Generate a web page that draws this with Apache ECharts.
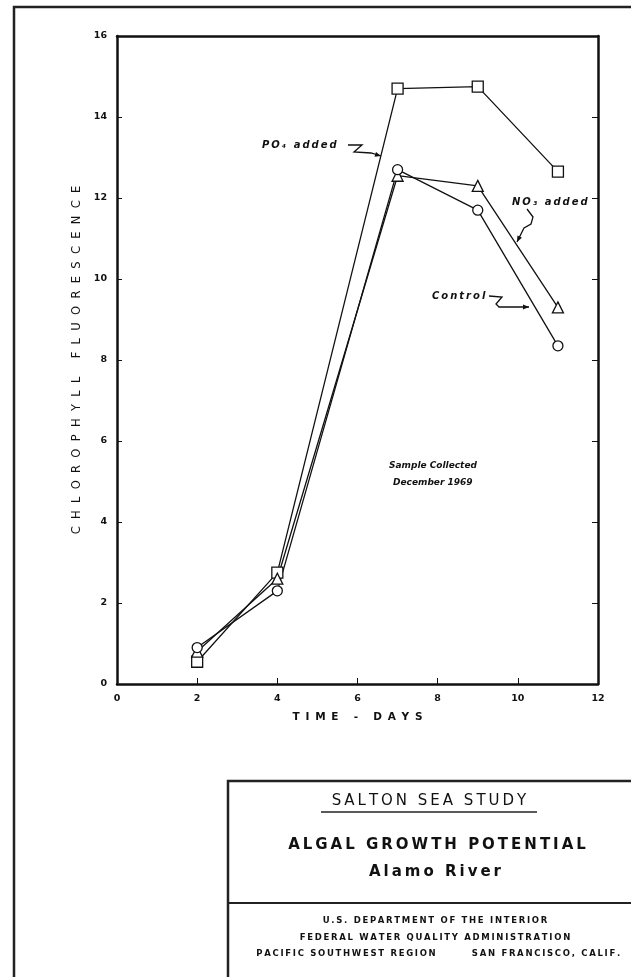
<!DOCTYPE html>
<html>
<head>
<meta charset="utf-8">
<script src="https://cdn.jsdelivr.net/npm/echarts@6/dist/echarts.min.js"></script>
<style>
html,body{margin:0;padding:0;background:#fff;}
#c{width:631px;height:977px;}
</style>
</head>
<body>
<div id="c"></div>
<script>
// ---- data ----
const days = [2, 4, 7, 9, 11];
const po4Added = [0.55, 2.75, 14.7, 14.75, 12.65];
const no3Added = [0.8, 2.6, 12.55, 12.3, 9.3];
const control = [0.9, 2.3, 12.7, 11.7, 8.35];
const xTicks = [0, 2, 4, 6, 8, 10, 12];
const yTicks = [0, 2, 4, 6, 8, 10, 12, 14, 16];
const seriesNames = ['PO₄ added', 'NO₃ added', 'Control'];
const yAxisTitle = 'CHLOROPHYLL FLUORESCENCE';
const xAxisTitle = 'TIME - DAYS';
const titleLines = ['SALTON SEA STUDY', 'ALGAL GROWTH POTENTIAL', 'Alamo River'];
const agencyLines = ['U.S. DEPARTMENT OF THE INTERIOR', 'FEDERAL WATER QUALITY ADMINISTRATION', 'PACIFIC SOUTHWEST REGION', 'SAN FRANCISCO, CALIF.'];
const noteLines = ['Sample Collected', 'December 1969'];

function spaced(s, sep) { return s.split('').join(sep); }
function pairs(xs, ys) { return xs.map((x, i) => [x, ys[i]]); }

const chart = echarts.init(document.getElementById('c'), null, {renderer: 'canvas'});
const ink = '#111';
const lineStyle = {color: ink, width: 1.3};
function mkSeries(name, data, symbol, size) {
  return {
    name: name, type: 'line', data: pairs(days, data), symbol: symbol, symbolSize: size,
    showSymbol: true, lineStyle: lineStyle,
    itemStyle: {color: '#fff', borderColor: ink, borderWidth: 1.3},
    emphasis: {disabled: true}, animation: false
  };
}

function arrow(points) {
  const n = points.length;
  const [x1, y1] = points[n - 2], [x2, y2] = points[n - 1];
  const a = Math.atan2(y2 - y1, x2 - x1), L = 6, W = 2.5;
  const bx = x2 - L * Math.cos(a), by = y2 - L * Math.sin(a);
  return [
    {type: 'polyline', shape: {points: points}, style: {stroke: ink, lineWidth: 1.3, fill: null}, z: 50},
    {type: 'polygon', shape: {points: [[x2, y2], [bx - W * Math.sin(a), by + W * Math.cos(a)], [bx + W * Math.sin(a), by - W * Math.cos(a)]]}, style: {fill: ink}, z: 50}
  ];
}
function txt(x, y, s, font, align) {
  return {type: 'text', x: x, y: y, z: 50,
    style: {text: s, font: font, fill: ink, textAlign: align || 'left', textVerticalAlign: 'middle'}};
}

const noteFont = 'italic bold 9px "DejaVu Sans"';
const labelFont = 'italic bold 10px "DejaVu Sans"';
const agencyFont = 'bold 8.5px "DejaVu Sans"';
const ts = '\u2009';
const graphics = [
  // outer frame
  {type: 'rect', shape: {x: 14, y: 7, width: 640, height: 990}, style: {stroke: '#222', lineWidth: 2.5, fill: null}},
  // title box
  {type: 'rect', shape: {x: 228, y: 781, width: 420, height: 220}, style: {stroke: '#222', lineWidth: 2.5, fill: null}},
  {type: 'line', shape: {x1: 228, y1: 903, x2: 640, y2: 903}, style: {stroke: '#222', lineWidth: 2}},
  txt(429, 801, spaced(titleLines[0], ts), '15px "DejaVu Sans"', 'center'),
  {type: 'line', shape: {x1: 321, y1: 812, x2: 537, y2: 812}, style: {stroke: '#222', lineWidth: 1.5}},
  txt(437, 845, spaced(titleLines[1], ts), 'bold 15px "DejaVu Sans"', 'center'),
  txt(435, 872, spaced(titleLines[2], ts), 'bold 15px "DejaVu Sans"', 'center'),
  txt(435, 921, spaced(agencyLines[0], ts), agencyFont, 'center'),
  txt(435, 938, spaced(agencyLines[1], ts), agencyFont, 'center'),
  txt(346, 954, spaced(agencyLines[2], ts), agencyFont, 'center'),
  txt(546, 954, spaced(agencyLines[3], ts), agencyFont, 'center'),
  // annotations
  txt(262, 145, spaced(seriesNames[0], ts), labelFont),
  ...arrow([[348, 145], [362, 145], [354, 152], [371, 153], [381, 156]]),
  txt(512, 202, spaced(seriesNames[1], ts), labelFont),
  ...arrow([[527, 209], [533, 217], [531, 224], [524, 228], [517, 242]]),
  txt(432, 296, spaced(seriesNames[2], ts), labelFont),
  ...arrow([[489, 296], [502, 297], [496, 304], [499, 307], [529, 307]]),
  txt(389, 466, noteLines[0], noteFont),
  txt(393, 483, noteLines[1], noteFont)
];

const axisLabel = {color: ink, fontSize: 9.5, fontWeight: 'bold', fontFamily: 'DejaVu Sans'};
chart.setOption({
  animation: false,
  backgroundColor: '#fff',
  grid: {left: 117, top: 36, right: 33, bottom: 293, containLabel: false},
  xAxis: [{
    type: 'value', min: xTicks[0], max: xTicks[xTicks.length - 1], interval: 2,
    axisLine: {show: true, onZero: false, lineStyle: {color: ink, width: 2.5}},
    axisTick: {show: true, inside: true, length: 6, lineStyle: {color: ink, width: 1}},
    splitLine: {show: false},
    axisLabel: Object.assign({margin: 10}, axisLabel),
    name: spaced(xAxisTitle, ' ' + ts), nameLocation: 'middle', nameGap: 28,
    nameTextStyle: {color: ink, fontSize: 10.5, fontWeight: 'bold', fontFamily: 'DejaVu Sans'}
  }, {
    type: 'value', position: 'top', min: 0, max: 12,
    axisLine: {show: true, onZero: false, lineStyle: {color: ink, width: 2.5}},
    axisTick: {show: false}, axisLabel: {show: false}, splitLine: {show: false}
  }],
  yAxis: [{
    type: 'value', min: yTicks[0], max: yTicks[yTicks.length - 1], interval: 2,
    axisLine: {show: true, onZero: false, lineStyle: {color: ink, width: 2.5}},
    axisTick: {show: true, inside: true, length: 5, lineStyle: {color: ink, width: 1}},
    splitLine: {show: false},
    axisLabel: Object.assign({margin: 10}, axisLabel),
    name: spaced(yAxisTitle, '  '), nameLocation: 'middle', nameGap: 27, nameRotate: 90,
    nameTextStyle: {color: ink, fontSize: 11.5, fontFamily: 'DejaVu Sans'}
  }, {
    type: 'value', position: 'right', min: 0, max: 16, interval: 2,
    axisLine: {show: true, onZero: false, lineStyle: {color: ink, width: 2.5}},
    axisTick: {show: true, inside: true, length: 6, lineStyle: {color: ink, width: 1}},
    axisLabel: {show: false}, splitLine: {show: false}
  }],
  series: [
    mkSeries(seriesNames[0], po4Added, 'rect', 11),
    mkSeries(seriesNames[1], no3Added, 'triangle', 11),
    mkSeries(seriesNames[2], control, 'circle', 10)
  ],
  graphic: graphics
});
</script>
</body>
</html>
